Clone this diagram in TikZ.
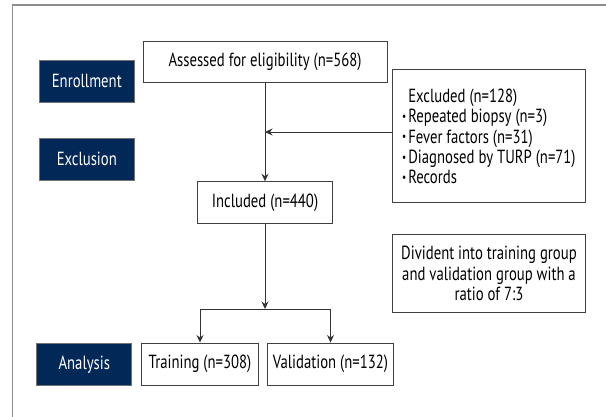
\documentclass[tikz,border=0pt]{standalone}
\usepackage{fontspec}
\setmainfont{PT Sans}[FakeStretch=0.775]
\usetikzlibrary{arrows.meta}
\definecolor{navy}{RGB}{2,40,88}
\newcommand{\bul}{\raisebox{0.12em}{\fontsize{12}{12}\selectfont\textbullet}\hspace{2pt}}
\tikzset{
  box/.style={draw=black!75, line width=0.9pt, fill=white, inner sep=0pt,
    font=\fontsize{19}{20.3}\selectfont},
  stage/.style={draw=black!55, line width=0.9pt, fill=navy, text=white, inner sep=0pt,
    minimum width=95.5pt, minimum height=42pt, font=\fontsize{19}{20}\selectfont},
  flow/.style={draw=black!80, line width=0.9pt, -{Stealth[length=7.5pt,width=7pt]}}
}
\begin{document}
\begin{tikzpicture}[x=1pt,y=-1pt]
    \useasboundingbox (0,0) rectangle (606,416);
    % outer frame, cut off at right and bottom
    \draw[black!45, line width=1.2pt] (12.8,430) -- (12.8,5) -- (620,5);
    % stages
    \node[stage] (enroll) at (86.8,81) {Enrollment};
    \node[stage] (exclu) at (86.8,159.3) {Exclusion};
    \node[stage, minimum width=95pt] (analys) at (84.3,364.2) {Analysis};
    % flow boxes
    \node[box, minimum width=244pt, minimum height=41.3pt] (assess) at (265,61.7) {Assessed for eligibility (n=568)};
    \node[box, minimum width=193.3pt, minimum height=132.3pt] (excl) at (489,135.9) {};
    \node[anchor=north west, align=left, inner sep=0pt, font=\fontsize{19}{20.3}\selectfont]
        (excltxt) at ([shift={(10,19.5)}]excl.north west)
        {\hphantom{\bul}Excluded (n=128)\\
         \bul Repeated biopsy (n=3)\\
         \bul Fever factors (n=31)\\
         \bul Diagnosed by TURP (n=71)\\
         \bul Records};
    \node[box, minimum width=135pt, minimum height=41.3pt] (incl) at (265,202.4) {Included (n=440)};
    \node[box, minimum width=193.3pt, minimum height=78.7pt, align=center] (divid) at (489,273.4)
        {Divident into training group\\and validation group with a\\ratio of 7:3};
    \node[box, minimum width=116.3pt, minimum height=42pt] (train) at (200,364) {Training (n=308)};
    \node[box, minimum width=125.2pt, minimum height=42pt] (valid) at (330.5,364) {Validation (n=132)};
    % connectors
    \coordinate (join) at (265,132);
    \coordinate (split) at (265,309);
    \draw[flow] (assess) -- (incl);
    \draw[flow] (excl.west |- join) -- (join);
    \draw[flow] (incl) -- (split);
    \draw[draw=black!80, line width=0.9pt] (train.north |- split) -- (valid.north |- split);
    \draw[flow] (train.north |- split) -- (train);
    \draw[flow] (valid.north |- split) -- (valid);
\end{tikzpicture}
\end{document}
